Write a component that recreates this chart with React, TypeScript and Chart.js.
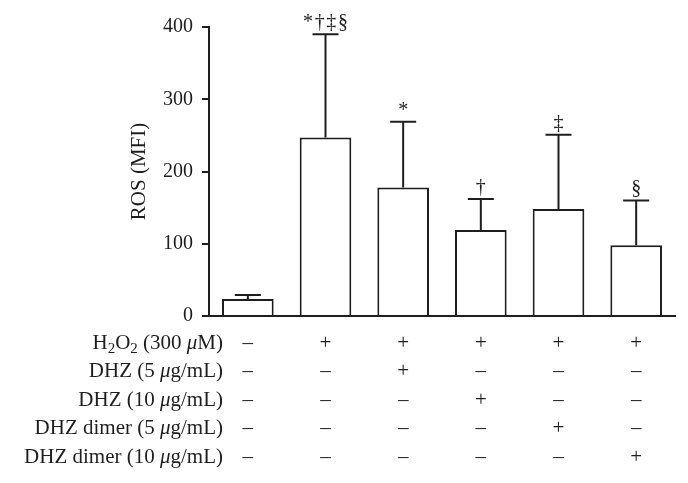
import React, { useEffect, useRef } from 'react';
import { Chart, registerables } from 'chart.js';

Chart.register(...registerables);

// ---- data ----
const categories = ['Control', 'H2O2', 'H2O2 + DHZ 5', 'H2O2 + DHZ 10', 'H2O2 + dimer 5', 'H2O2 + dimer 10'];
const rosMeans = [23.5, 247, 178, 119, 148, 98];
const rosErrors = [5.5, 143, 91, 43, 103, 62];
const significance = ['', '*†‡§', '*', '†', '‡', '§'];
const yTicks = [0, 100, 200, 300, 400];
const yTitle = 'ROS (MFI)';
const rowLabels = [
  'H₂O₂ (300 μM)',
  'DHZ (5 μg/mL)',
  'DHZ (10 μg/mL)',
  'DHZ dimer (5 μg/mL)',
  'DHZ dimer (10 μg/mL)',
];
const rowSigns = [
  ['–', '+', '+', '+', '+', '+'],
  ['–', '–', '+', '–', '–', '–'],
  ['–', '–', '–', '+', '–', '–'],
  ['–', '–', '–', '–', '+', '–'],
  ['–', '–', '–', '–', '–', '+'],
];

const FONT = '"Liberation Serif", "DejaVu Serif", serif';
const INK = '#1e1e1e';

function drawRichLabel(ctx: CanvasRenderingContext2D, text: string, rightX: number, y: number, size: number) {
  type Seg = { t: string; kind: 'n' | 'sub' | 'it' };
  const segs: Seg[] = [];
  for (const ch of text) {
    let kind: Seg['kind'] = 'n';
    let t = ch;
    if (ch === '₂') { kind = 'sub'; t = '2'; }
    else if (ch === 'μ') { kind = 'it'; }
    const last = segs[segs.length - 1];
    if (last && last.kind === kind) last.t += t;
    else segs.push({ t, kind });
  }
  const fontFor = (k: Seg['kind']) =>
    k === 'sub' ? `${Math.round(size * 0.7)}px ${FONT}` : k === 'it' ? `italic ${size}px ${FONT}` : `${size}px ${FONT}`;
  let total = 0;
  const widths = segs.map((s) => {
    ctx.font = fontFor(s.kind);
    const w = ctx.measureText(s.t).width;
    total += w;
    return w;
  });
  let x = rightX - total;
  ctx.textAlign = 'left';
  ctx.textBaseline = 'middle';
  segs.forEach((s, i) => {
    ctx.font = fontFor(s.kind);
    ctx.fillText(s.t, x, s.kind === 'sub' ? y + size * 0.28 : y);
    x += widths[i];
  });
}

const overlayPlugin = {
  id: 'overlay',
  afterDatasetsDraw(chart: any) {
    const ctx: CanvasRenderingContext2D = chart.ctx;
    const xs = chart.scales.x;
    const ys = chart.scales.y;
    ctx.save();
    ctx.strokeStyle = INK;
    ctx.fillStyle = INK;
    ctx.lineWidth = 2;
    rosMeans.forEach((m, i) => {
      const cx = xs.getPixelForValue(i);
      const yTop = ys.getPixelForValue(m);
      const yErr = ys.getPixelForValue(m + rosErrors[i]);
      const half = 13;
      ctx.beginPath();
      ctx.moveTo(cx, yTop);
      ctx.lineTo(cx, yErr);
      ctx.moveTo(cx - half, yErr);
      ctx.lineTo(cx + half, yErr);
      ctx.stroke();
      if (significance[i]) {
        ctx.font = `20px ${FONT}`;
        ctx.textAlign = 'center';
        ctx.textBaseline = 'alphabetic';
        const label = Array.from(significance[i]).join('\u200A');
        ctx.fillText(label, cx, yErr - 6);
      }
    });
    ctx.restore();
  },
  afterDraw(chart: any) {
    const ctx: CanvasRenderingContext2D = chart.ctx;
    const xs = chart.scales.x;
    const area = chart.chartArea;
    ctx.save();
    ctx.fillStyle = INK;
    ctx.translate(139, (area.top + area.bottom) / 2);
    ctx.rotate(-Math.PI / 2);
    ctx.font = `21px ${FONT}`;
    ctx.textAlign = 'center';
    ctx.textBaseline = 'middle';
    ctx.fillText(yTitle, 0, 0);
    ctx.restore();

    ctx.save();
    ctx.fillStyle = INK;
    const rowStart = area.bottom + 27;
    const rowGap = 28.5;
    rowLabels.forEach((label, r) => {
      const y = rowStart + r * rowGap;
      drawRichLabel(ctx, label, 223, y, 21);
      rowSigns[r].forEach((s, c) => {
        const cx = xs.getPixelForValue(c);
        ctx.font = `21px ${FONT}`;
        ctx.textAlign = 'center';
        ctx.textBaseline = 'middle';
        ctx.fillText(s, cx, y);
      });
    });
    ctx.restore();
  },
};

export default function App() {
  const canvasRef = useRef<HTMLCanvasElement | null>(null);

  useEffect(() => {
    if (!canvasRef.current) return;
    const chart = new Chart(canvasRef.current, {
      type: 'bar',
      data: {
        labels: categories,
        datasets: [
          {
            data: rosMeans,
            backgroundColor: '#ffffff',
            borderColor: INK,
            borderWidth: 2,
            borderSkipped: 'bottom',
            barPercentage: 0.665,
            categoryPercentage: 1,
          },
        ],
      },
      options: {
        animation: false,
        responsive: true,
        maintainAspectRatio: false,
        layout: { padding: { top: 27, right: 13, left: 0, bottom: 0 } },
        plugins: { legend: { display: false }, tooltip: { enabled: false } },
        scales: {
          x: {
            offset: true,
            grid: { display: false },
            border: { display: true, color: INK, width: 2 },
            ticks: { display: false },
            afterFit: (s: any) => {
              s.height = 167;
            },
          },
          y: {
            min: 0,
            max: 400,
            afterBuildTicks: (s: any) => {
              s.ticks = yTicks.map((v) => ({ value: v }));
            },
            grid: { drawOnChartArea: false, drawTicks: true, tickLength: 7, color: INK, lineWidth: 2 },
            border: { display: true, color: INK, width: 2 },
            ticks: {
              color: INK,
              padding: 9,
              font: { family: FONT, size: 20 },
            },
            afterFit: (s: any) => {
              s.width = 209;
            },
          },
        },
      },
      plugins: [overlayPlugin],
    });
    return () => chart.destroy();
  }, []);

  return (
    <div style={{ position: 'fixed', left: 0, top: 0, width: 688, height: 483, background: '#fff' }}>
      <canvas ref={canvasRef} />
    </div>
  );
}
